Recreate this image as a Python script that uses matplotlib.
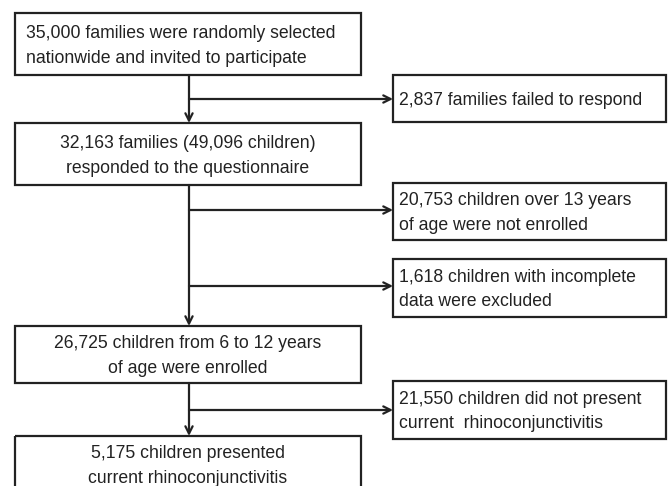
import matplotlib.pyplot as plt
from matplotlib.patches import Rectangle

plt.rcParams['font.family'] = ['Liberation Sans', 'DejaVu Sans']

# flowchart texts
main_steps = [
    "35,000 families were randomly selected\nnationwide and invited to participate",
    "32,163 families (49,096 children)\nresponded to the questionnaire",
    "26,725 children from 6 to 12 years\nof age were enrolled",
    "5,175 children presented\ncurrent rhinoconjunctivitis",
]
side_steps = [
    "2,837 families failed to respond",
    "20,753 children over 13 years\nof age were not enrolled",
    "1,618 children with incomplete\ndata were excluded",
    "21,550 children did not present\ncurrent  rhinoconjunctivitis",
]

ink = '#222222'
fs = 12.7
lw = 1.6
ls = 1.55

fig = plt.figure(figsize=(6.72, 4.86), dpi=100)
ax = fig.add_axes([0, 0, 1, 1])
ax.set_xlim(0, 672)
ax.set_ylim(486, 0)
ax.axis('off')

# main column boxes (x0, x1, y0, y1) in pixels
main_x = (15, 361)
main_y = [(13, 75), (123, 185), (326, 383), (436, 500)]
text_y = [46, 156, 356, 466]
main_align = ['left', 'center', 'center', 'center']
for txt, (y0, y1), ty, ha in zip(main_steps, main_y, text_y, main_align):
    ax.add_patch(Rectangle((main_x[0], y0), main_x[1] - main_x[0], y1 - y0,
                           fill=False, ec=ink, lw=lw, clip_on=False))
    tx = main_x[0] + 11 if ha == 'left' else (main_x[0] + main_x[1]) / 2
    ax.text(tx, ty, txt, ha=ha, va='center', fontsize=fs,
            color=ink, linespacing=ls)

# side boxes
side_x = (393, 666)
side_y = [(75, 122), (183, 240), (259, 317), (381, 439)]
arrow_y = [99, 210, 286, 410]
for txt, (y0, y1) in zip(side_steps, side_y):
    ax.add_patch(Rectangle((side_x[0], y0), side_x[1] - side_x[0], y1 - y0,
                           fill=False, ec=ink, lw=lw))
    ax.text(side_x[0] + 6, (y0 + y1) / 2 + 1.5, txt, ha='left', va='center',
            fontsize=fs, color=ink, linespacing=ls)

xv = 189
arr = dict(arrowstyle='->', color=ink, lw=lw, shrinkA=0, shrinkB=0,
           mutation_scale=13)
# vertical arrows between main boxes
for (a0, a1), (b0, b1) in zip(main_y[:-1], main_y[1:]):
    ax.annotate('', xy=(xv, b0), xytext=(xv, a1), arrowprops=arr)
# horizontal arrows to side boxes
for ya in arrow_y:
    ax.annotate('', xy=(side_x[0], ya), xytext=(xv, ya), arrowprops=arr)

fig.savefig('out.png', dpi=100)
